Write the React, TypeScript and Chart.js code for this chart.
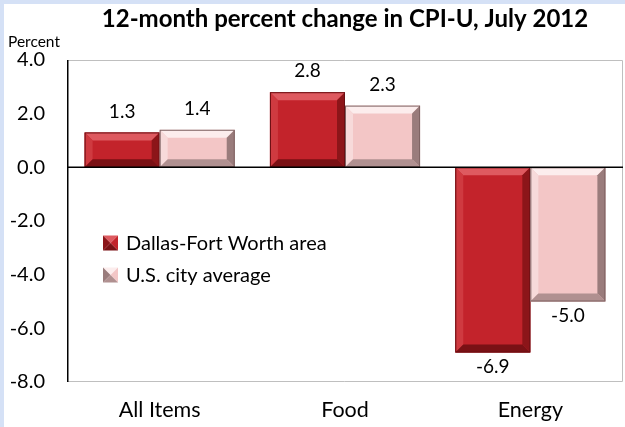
import React, { useEffect, useRef } from "react";
import { Chart, registerables } from "chart.js";

Chart.register(...registerables);

const chartTitle = "12-month percent change in CPI-U, July 2012";
const yAxisTitle = "Percent";
const categories = ["All Items", "Food", "Energy"];
const seriesNames = ["Dallas-Fort Worth area", "U.S. city average"];
const dallasValues = [1.3, 2.8, -6.9];
const usValues = [1.4, 2.3, -5.0];
const yMin = -8;
const yMax = 4;
const yStep = 2;

const FONT = "Lato";

type Shade = { face: string; top: string; left: string; right: string; bottom: string; edge: string };
const SHADES: Shade[] = [
  { face: "#C3232B", top: "#DE5A60", left: "#CF3A40", right: "#8C1519", bottom: "#7A1115", edge: "#6A0E12" },
  { face: "#F3C6C6", top: "#FCEDED", left: "#F7DADA", right: "#9A7C7C", bottom: "#B09090", edge: "#7E6262" },
];

function poly(ctx: CanvasRenderingContext2D, pts: number[][], color: string) {
  ctx.beginPath();
  ctx.moveTo(pts[0][0], pts[0][1]);
  for (let i = 1; i < pts.length; i++) ctx.lineTo(pts[i][0], pts[i][1]);
  ctx.closePath();
  ctx.fillStyle = color;
  ctx.fill();
}

const framePlugin = {
  id: "frame",
  beforeDatasetsDraw(chart: any) {
    const { ctx, chartArea: a } = chart;
    ctx.save();
    ctx.strokeStyle = "#BFBFBF";
    ctx.lineWidth = 1;
    ctx.beginPath();
    ctx.moveTo(a.left, a.top + 0.5);
    ctx.lineTo(a.right - 0.5, a.top + 0.5);
    ctx.lineTo(a.right - 0.5, a.bottom - 0.5);
    ctx.lineTo(a.left, a.bottom - 0.5);
    ctx.stroke();
    ctx.strokeStyle = "#000";
    ctx.lineWidth = 1.5;
    ctx.beginPath();
    ctx.moveTo(a.left + 0.75, a.top);
    ctx.lineTo(a.left + 0.75, a.bottom);
    ctx.stroke();
    ctx.restore();
  },
  afterDatasetsDraw(chart: any) {
    const { ctx, chartArea: a } = chart;
    ctx.save();
    // bevels
    chart.data.datasets.forEach((ds: any, di: number) => {
      const meta = chart.getDatasetMeta(di);
      const sh = SHADES[di];
      meta.data.forEach((el: any) => {
        const p = el.getProps(["x", "y", "base", "width"], true);
        const l = p.x - p.width / 2;
        const r = p.x + p.width / 2;
        const t = Math.min(p.y, p.base);
        const b = Math.max(p.y, p.base);
        const d = Math.min(8, (r - l) / 2, (b - t) / 2);
        poly(ctx, [[l, t], [r, t], [r - d, t + d], [l + d, t + d]], sh.top);
        poly(ctx, [[l, t], [l + d, t + d], [l + d, b - d], [l, b]], sh.left);
        poly(ctx, [[r, t], [r, b], [r - d, b - d], [r - d, t + d]], sh.right);
        poly(ctx, [[l, b], [l + d, b - d], [r - d, b - d], [r, b]], sh.bottom);
        ctx.strokeStyle = sh.edge;
        ctx.lineWidth = 1;
        ctx.strokeRect(l + 0.5, t + 0.5, r - l - 1, b - t - 1);
      });
    });
    // zero line
    const y0 = chart.scales.y.getPixelForValue(0);
    ctx.strokeStyle = "#000";
    ctx.lineWidth = 1.5;
    ctx.beginPath();
    ctx.moveTo(a.left, y0);
    ctx.lineTo(a.right, y0);
    ctx.stroke();
    // data labels
    ctx.fillStyle = "#000";
    ctx.font = `19px ${FONT}`;
    ctx.textAlign = "center";
    ctx.textBaseline = "middle";
    chart.data.datasets.forEach((ds: any, di: number) => {
      const meta = chart.getDatasetMeta(di);
      meta.data.forEach((el: any, i: number) => {
        const v = ds.data[i];
        const p = el.getProps(["x", "y"], true);
        const yy = v >= 0 ? p.y - 21 : p.y + 14;
        ctx.fillText(v.toFixed(1), p.x, yy);
      });
    });
    // legend
    const lx = a.left + 36;
    const rows = [a.top + 183, a.top + 215];
    seriesNames.forEach((name, i) => {
      const sh = SHADES[i];
      const cy = rows[i];
      const s = 15;
      const x0 = lx, y0b = cy - s / 2, x1 = lx + s, y1 = cy + s / 2;
      const cx = (x0 + x1) / 2;
      poly(ctx, [[x0, y0b], [x1, y0b], [cx, cy]], sh.top);
      poly(ctx, [[x0, y0b], [cx, cy], [x0, y1]], sh.right);
      poly(ctx, [[x1, y0b], [x1, y1], [cx, cy]], sh.face);
      poly(ctx, [[x0, y1], [cx, cy], [x1, y1]], sh.bottom);
      ctx.fillStyle = "#000";
      ctx.font = `20px ${FONT}`;
      ctx.textAlign = "left";
      ctx.textBaseline = "middle";
      ctx.fillText(name, x1 + 8, cy + 1);
    });
    // y axis title
    ctx.font = `15.5px ${FONT}`;
    ctx.textAlign = "left";
    ctx.textBaseline = "middle";
    ctx.fillText(yAxisTitle, 4, 38);
    ctx.restore();
  },
};

export default function App() {
  const ref = useRef<HTMLCanvasElement | null>(null);
  useEffect(() => {
    if (!ref.current) return;
    Chart.defaults.font.family = FONT;
    Chart.defaults.color = "#000";
    const chart = new Chart(ref.current, {
      type: "bar",
      data: {
        labels: categories,
        datasets: [
          { label: seriesNames[0], data: dallasValues, backgroundColor: SHADES[0].face, borderWidth: 0 },
          { label: seriesNames[1], data: usValues, backgroundColor: SHADES[1].face, borderWidth: 0 },
        ],
      },
      options: {
        responsive: false,
        animation: false,
        devicePixelRatio: 1,
        layout: { padding: { left: 0, right: 2, top: 0, bottom: 0 } },
        datasets: { bar: { categoryPercentage: 0.81, barPercentage: 1 } },
        plugins: {
          legend: { display: false },
          tooltip: { enabled: false },
          title: {
            display: true,
            text: chartTitle,
            fullSize: false,
            color: "#000",
            font: { size: 24, weight: "bold", family: FONT, lineHeight: 1.2 },
            padding: { top: 1, bottom: 26.2 },
          },
        },
        scales: {
          x: {
            grid: { display: false, drawTicks: false },
            border: { display: false },
            ticks: { font: { size: 21.5, family: FONT }, padding: 15, color: "#000" },
            afterFit: (s: any) => { s.height = 45; },
          },
          y: {
            min: yMin,
            max: yMax,
            grid: { display: false, drawTicks: false },
            border: { display: false },
            ticks: {
              stepSize: yStep,
              font: { size: 20, family: FONT },
              padding: 22,
              color: "#000",
              callback: (v: any) => Number(v).toFixed(1),
            },
            afterFit: (s: any) => { s.width = 63; },
          },
        },
      },
      plugins: [framePlugin],
    } as any);
    return () => chart.destroy();
  }, []);
  return (
    <div
      style={{
        position: "absolute",
        left: 0,
        top: 0,
        width: 625,
        height: 427,
        boxSizing: "border-box",
        background: "#fff",
        borderLeft: "4px solid #D5E1F6",
        borderTop: "4px solid #D5E1F6",
      }}
    >
      <canvas ref={ref} width={621} height={423} style={{ display: "block" }} />
    </div>
  );
}
